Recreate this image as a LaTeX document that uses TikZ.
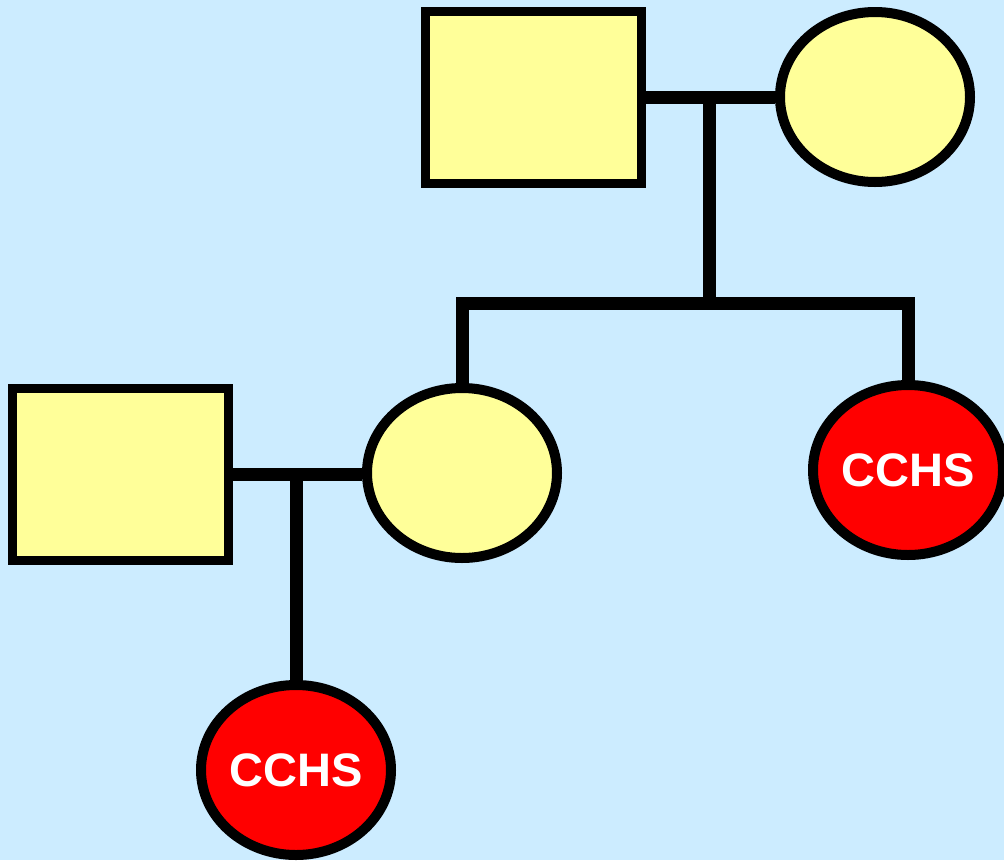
\documentclass[tikz,border=0pt]{standalone}
\usepackage{fontspec}
\setmainfont{Liberation Sans}
\usetikzlibrary{shapes.geometric}

\definecolor{sky}{RGB}{204,236,255}
\definecolor{pale}{RGB}{255,255,153}

\tikzset{
  male/.style={draw, fill=pale, line width=9pt, minimum width=216pt, minimum height=172pt},
  female/.style={ellipse, draw, fill=pale, line width=10pt, inner sep=0pt,
    minimum width=190pt, minimum height=170pt},
  affected/.style={female, fill=red, text=white,
    font=\fontsize{47}{47}\selectfont\bfseries},
  link/.style={line width=13pt}
}

\begin{document}
\begin{tikzpicture}[x=1pt,y=-1pt]
                \fill[sky] (0,0) rectangle (1004,860);
                \useasboundingbox (0,0) rectangle (1004,860);
                % first generation
                \node[male] (gf) at (533.5,97.5) {};
                \node[female] (gm) at (875,97) {};
                % second generation
                \node[female] (mo) at (462,473) {};
                \node[affected] (au) at (908,470) {CCHS};
                \node[male] (fa) at (120,474.5) {};
                % third generation
                \node[affected] (ch) at (296,770) {CCHS};
                % couples and descent lines
                \coordinate (u1) at (709,97.5);
                \coordinate (sib) at (709,303);
                \coordinate (u2) at (296,474.5);
                \draw[link] (gf.east) -- (gf.east -| gm.west);
                \draw[link] (u1) -- (sib);
                \draw[link] (mo.north) |- (sib) -| (au.north);
                \draw[link] (fa.east) -- (fa.east -| mo.west);
                \draw[link] (u2) -- (ch.north);
            \end{tikzpicture}
\end{document}
